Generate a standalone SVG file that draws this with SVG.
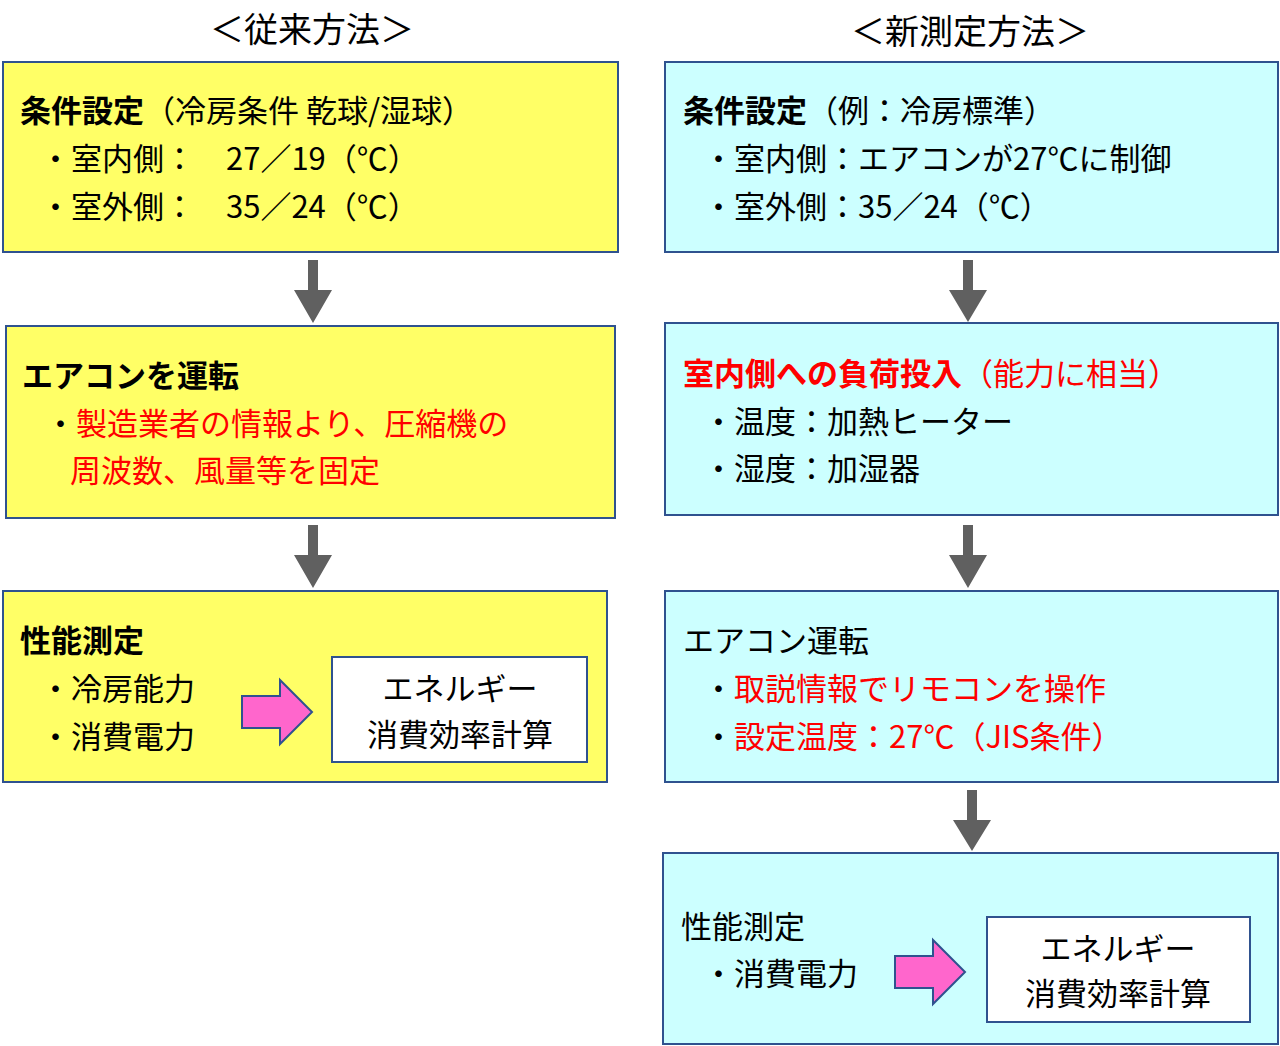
<svg xmlns="http://www.w3.org/2000/svg" width="1280" height="1046" viewBox="0 0 1280 1046">
<style>
text{font-family:"Noto Sans CJK JP","Noto Sans",sans-serif;font-size:31px;fill:#000}
.y{fill:#FFFF66;stroke:#2F528F;stroke-width:2}
.c{fill:#CCFFFF;stroke:#2F528F;stroke-width:2}
.w{fill:#fff;stroke:#2F528F;stroke-width:2}
.b{font-weight:bold}
.r{fill:#FF0000}
.pk{fill:#FF66CC;stroke:#2F528F;stroke-width:2}
.ar{fill:#606060}
.t{font-size:34px}
.m{text-anchor:middle}
</style>
<rect width="1280" height="1046" fill="#fff"/>
<text class="t m" x="312" y="42">＜従来方法＞</text>
<text class="t m" x="970" y="44">＜新測定方法＞</text>
<g id="connectors">
<path class="ar" d="M308,260h10v30h14l-19,33l-19,-33h14z"/>
<path class="ar" d="M308,525h10v30h14l-19,33l-19,-33h14z"/>
<path class="ar" d="M963,260h10v30h14l-19,32l-19,-32h14z"/>
<path class="ar" d="M963,525h10v30h14l-19,33l-19,-33h14z"/>
<path class="ar" d="M967,790h10v30h14l-19,31l-19,-31h14z"/>
</g>
<g id="l1"><rect class="y" x="3" y="62" width="615" height="190"/>
<text x="20" y="122"><tspan class="b">条件設定</tspan>（冷房条件 乾球/湿球）</text>
<text x="40" y="170">・室内側：　27／19（℃）</text>
<text x="40" y="218">・室外側：　35／24（℃）</text></g>
<g id="l2"><rect class="y" x="6" y="326" width="609" height="192"/>
<text class="b" x="22" y="387">エアコンを運転</text>
<text x="45" y="435"><tspan>・</tspan><tspan class="r">製造業者の情報より、圧縮機の</tspan></text>
<text class="r" x="70" y="482">周波数、風量等を固定</text></g>
<g id="l3"><rect class="y" x="3" y="591" width="604" height="191"/>
<text class="b" x="20" y="652">性能測定</text>
<text x="40" y="700">・冷房能力</text>
<text x="40" y="748">・消費電力</text>
<path class="pk" d="M242,696h38v-16l32,32l-32,32v-16h-38z"/>
<rect class="w" x="332" y="657" width="255" height="105"/>
<text class="m" x="460" y="700">エネルギー</text>
<text class="m" x="460" y="746">消費効率計算</text></g>
<g id="r1"><rect class="c" x="665" y="62" width="613" height="190"/>
<text x="683" y="122"><tspan class="b">条件設定</tspan>（例：冷房標準）</text>
<text x="703" y="170">・室内側：エアコンが27℃に制御</text>
<text x="703" y="218">・室外側：35／24（℃）</text></g>
<g id="r2"><rect class="c" x="665" y="323" width="613" height="192"/>
<text class="r" x="683" y="385"><tspan class="b r">室内側への負荷投入</tspan>（能力に相当）</text>
<text x="703" y="433">・温度：加熱ヒーター</text>
<text x="703" y="480">・湿度：加湿器</text></g>
<g id="r3"><rect class="c" x="665" y="591" width="613" height="191"/>
<text x="683" y="652">エアコン運転</text>
<text x="703" y="700">・<tspan class="r">取説情報でリモコンを操作</tspan></text>
<text x="703" y="748">・<tspan class="r">設定温度：27℃（JIS条件）</tspan></text></g>
<g id="r4"><rect class="c" x="663" y="853" width="615" height="191"/>
<text x="681" y="938">性能測定</text>
<text x="703" y="985">・消費電力</text>
<path class="pk" d="M895,956h38v-16l32,32l-32,32v-16h-38z"/>
<rect class="w" x="987" y="917" width="263" height="105"/>
<text class="m" x="1118" y="960">エネルギー</text>
<text class="m" x="1118" y="1005">消費効率計算</text></g>
</svg>
